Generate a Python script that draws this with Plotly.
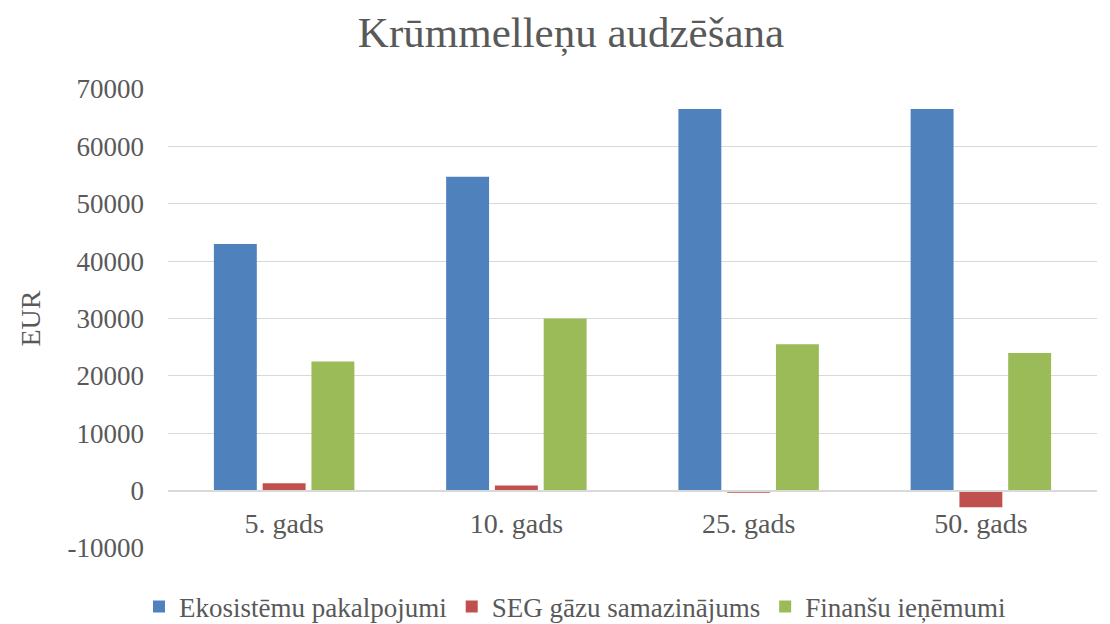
import plotly.graph_objects as go

categories = ["5. gads", "10. gads", "25. gads", "50. gads"]
series_names = ["Ekosistēmu pakalpojumi", "SEG gāzu samazinājums", "Finanšu ieņēmumi"]
ekosistemu = [43000, 54700, 66500, 66500]
seg = [1300, 900, -350, -2900]
finansu = [22500, 30000, 25500, 24000]
colors = ["#4F81BD", "#C0504D", "#9BBB59"]
y_ticks = [-10000, 0, 10000, 20000, 30000, 40000, 50000, 60000, 70000]

FONT = "Liberation Serif"
TXT = "#595959"
fig = go.Figure()
for name, vals, c in zip(series_names, [ekosistemu, seg, finansu], colors):
    fig.add_trace(go.Bar(x=categories, y=vals, name=name, marker_color=c,
                         marker_line_width=0))

fig.update_layout(
    width=1110, height=624,
    paper_bgcolor="white", plot_bgcolor="white",
    font=dict(family=FONT, color=TXT, size=28),
    title=dict(text="Krūmmelleņu audzēšana", x=0.5072, xanchor="center",
               xref="container", yref="container", y=0.961, yanchor="middle",
               font=dict(size=43, color=TXT, family=FONT)),
    barmode="group", bargap=0.37, bargroupgap=0.12,
    margin=dict(l=160, r=21, t=81, b=84),
    legend=dict(orientation="h", xref="container", yref="container",
                x=0.5108, xanchor="center", y=0.040, yanchor="middle",
                font=dict(size=27, color=TXT, family=FONT), itemwidth=30,
                traceorder="normal"),
    showlegend=True,
    annotations=[dict(text="EUR", textangle=-90, xref="paper", yref="paper",
                      x=-0.1485, y=0.5, xanchor="center", yanchor="middle", showarrow=False,
                      font=dict(size=28, color=TXT, family=FONT))],
)
fig.update_yaxes(range=[-10000, 70000], tickvals=y_ticks, ticktext=[str(v) for v in y_ticks],
                 showgrid=True, gridcolor="#D9D9D9", gridwidth=1.3, zeroline=False,
                 automargin=False,
                 tickfont=dict(size=27, color=TXT, family=FONT),
                 ticks="", ticklabelstandoff=23)
fig.update_xaxes(showline=True, linecolor="#D9D9D9", linewidth=2, ticks="",
                 anchor="free", position=0.125, automargin=False,
                 tickfont=dict(size=28, color=TXT, family=FONT), ticklabelstandoff=8)

fig.write_html("out.html")
